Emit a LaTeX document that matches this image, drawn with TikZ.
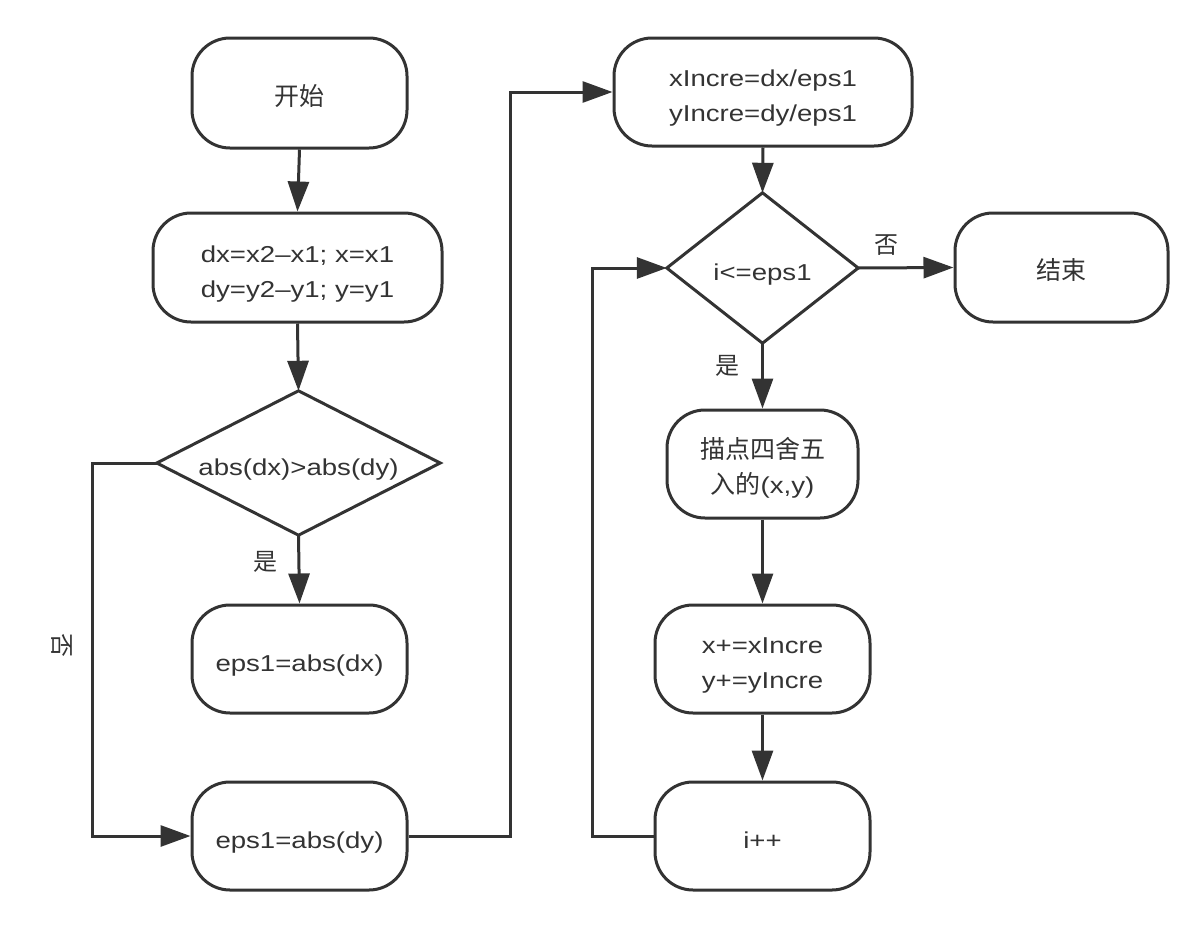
\documentclass[tikz,border=0pt]{standalone}
\usepackage{fontspec}
\setmainfont[FakeStretch=1.2]{Liberation Sans}
\newfontfamily\cjkfam{Noto Sans CJK SC}
\newcommand{\cjk}{\fontsize{25}{35}\selectfont\cjkfam}
\usetikzlibrary{arrows.meta}
\definecolor{ink}{HTML}{333333}
\newcommand{\boxtxt}[1]{\raisebox{-5pt}[\height][\depth]{\begin{tabular}{@{}c@{}}#1\end{tabular}}}
\begin{document}
\begin{tikzpicture}[x=1pt,y=-1pt,
  txt/.style={text=ink, font=\fontsize{23}{35}\selectfont, inner sep=0pt},
  box/.style={txt, draw=ink, line width=3pt, rounded corners=38pt, minimum width=#1, minimum height=108pt},
  dia/.style n args={2}{txt, minimum width=#1, minimum height=#2},
  conn/.style={draw=ink, line width=3pt},
  arr/.style={conn, -{Triangle[length=30pt,width=21pt]}},
  lab/.style={text=ink, font=\fontsize{24}{26}\selectfont\cjkfam, inner sep=0pt}]
\useasboundingbox (0,0) rectangle (1192,932);

% left column
\node[box=215pt, minimum height=110pt] (start) at (299.5,93) {\boxtxt{\cjk 开始}};
\node[box=289pt, minimum height=109pt] (calc) at (297.5,267.5) {\boxtxt{dx=x2–x1; x=x1\\dy=y2–y1; y=y1}};
\node[dia={283pt}{144pt}] (d1) at (298.5,463) {\boxtxt{abs(dx)>abs(dy)}};
\draw[conn] (d1.north) -- (d1.east) -- (d1.south) -- (d1.west) -- cycle;
\node[box=215pt] (epsx) at (299.5,659) {\boxtxt{eps1=abs(dx)}};
\node[box=215pt] (epsy) at (299.5,836) {\boxtxt{eps1=abs(dy)}};

% right column
\node[box=298pt] (incr) at (763,92) {\boxtxt{xIncre=dx/eps1\\yIncre=dy/eps1}};
\node[dia={191pt}{150pt}] (d2) at (762.5,268) {\boxtxt{i<=eps1}};
\draw[conn] (d2.north) -- (d2.east) -- (d2.south) -- (d2.west) -- cycle;
\node[box=213pt, minimum height=109pt] (end) at (1061.5,267.5) {\boxtxt{\cjk 结束}};
\node[box=191pt] (plot) at (762.5,464) {\boxtxt{{\cjk 描点四舍五}\\{\cjk 入的}(x,y)}};
\node[box=215pt] (upd) at (762.5,659) {\boxtxt{x+=xIncre\\y+=yIncre}};
\node[box=215pt] (inc) at (762.5,836) {\boxtxt{i++}};

% bend points
\coordinate (a1) at (92,463);
\coordinate (a2) at (92,836);
\coordinate (b1) at (510,836);
\coordinate (b2) at (510,92);
\coordinate (c1) at (592,836);
\coordinate (c2) at (592,268);

% connectors
\draw[arr] (start.south) -- (calc.north);
\draw[arr] (calc.south) -- (d1.north);
\draw[arr] (d1.south) -- (epsx.north);
\draw[arr] (d1.west) -- (a1) -- (a2) -- (epsy.west);
\draw[arr] (epsy.east) -- (b1) -- (b2) -- (incr.west);
\draw[arr] (incr.south) -- (d2.north);
\draw[arr] (d2.east) -- (end.west);
\draw[arr] (d2.south) -- (plot.north);
\draw[arr] (plot.south) -- (upd.north);
\draw[arr] (upd.south) -- (inc.north);
\draw[arr] (inc.west) -- (c1) -- (c2) -- (d2.west);

% labels
\node[lab] (y1) at (265,562) {是};
\node[lab, rotate=-90] (n1) at (62,645) {否};
\node[lab] (n2) at (886,245) {否};
\node[lab] (y2) at (727,366) {是};
\end{tikzpicture}
\end{document}
